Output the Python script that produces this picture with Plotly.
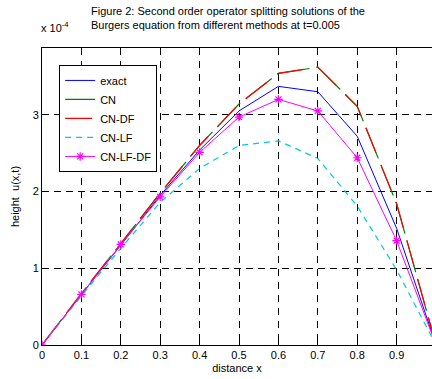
import plotly.graph_objects as go

x = [0, 0.1, 0.2, 0.3, 0.4, 0.5, 0.6, 0.7, 0.8, 0.9, 1.0]
# values in units of 1e-4
exact    = [0, 0.66, 1.30, 1.95, 2.54, 3.05, 3.37, 3.30, 2.72, 1.52, 0]
cn       = [0, 0.67, 1.32, 1.98, 2.60, 3.14, 3.54, 3.62, 3.11, 1.84, 0]
cn_df    = [0, 0.67, 1.32, 1.98, 2.60, 3.14, 3.54, 3.62, 3.11, 1.84, 0]
cn_lf    = [0, 0.64, 1.26, 1.86, 2.30, 2.60, 2.66, 2.43, 1.81, 0.98, 0]
cn_lf_df = [0, 0.66, 1.31, 1.93, 2.51, 2.97, 3.20, 3.05, 2.44, 1.36, 0]

xticks = [0, 0.1, 0.2, 0.3, 0.4, 0.5, 0.6, 0.7, 0.8, 0.9, 1.0]
xticklabels = ["0", "0.1", "0.2", "0.3", "0.4", "0.5", "0.6", "0.7", "0.8", "0.9", "1"]
yticks = [0, 1, 2, 3]
yticklabels = ["0", "1", "2", "3"]

FONT = "Arial, Liberation Sans, sans-serif"

fig = go.Figure()
fig.add_trace(go.Scatter(x=x, y=exact, name="exact", mode="lines",
                         line=dict(color="#0000ff", width=1)))
fig.add_trace(go.Scatter(x=x, y=cn, name="CN", mode="lines",
                         line=dict(color="#008000", width=1.2, dash="33px,7px")))
fig.add_trace(go.Scatter(x=x, y=cn_df, name="CN-DF", mode="lines",
                         line=dict(color="#ff0000", width=1.2, dash="27px,13px")))
fig.add_trace(go.Scatter(x=x, y=cn_lf, name="CN-LF", mode="lines",
                         line=dict(color="#00cccc", width=1.2, dash="6px,5px")))
fig.add_trace(go.Scatter(x=x, y=cn_lf_df, name="CN-LF-DF", mode="lines+markers",
                         line=dict(color="#ff00ff", width=1),
                         marker=dict(symbol="asterisk-open", size=7,
                                     line=dict(color="#ff00ff", width=1.2))))

fig.update_layout(
    width=432, height=379,
    margin=dict(l=42, r=0, t=48, b=34),
    paper_bgcolor="white", plot_bgcolor="white",
    font=dict(family=FONT, size=11, color="black"),
    showlegend=True,
    legend=dict(x=0.044, y=0.943, xanchor="left", yanchor="top",
                bordercolor="black", borderwidth=1, bgcolor="white",
                font=dict(family=FONT, size=11, color="black"),
                tracegroupgap=0),
)
fig.update_xaxes(range=[0, 0.9898], tickvals=xticks, ticktext=xticklabels,
                 showline=True, linecolor="black", linewidth=1, mirror=True,
                 ticks="inside", ticklen=4, tickcolor="black",
                 showgrid=True, gridcolor="black", gridwidth=1, griddash="7px,6px",
                 zeroline=False,
                 title=dict(text="distance x", standoff=4, font=dict(size=11)),
                 tickfont=dict(size=11))
fig.update_yaxes(range=[0, 3.87], tickvals=yticks, ticktext=yticklabels,
                 showline=True, linecolor="black", linewidth=1, mirror=True,
                 ticks="inside", ticklen=4, tickcolor="black",
                 showgrid=True, gridcolor="black", gridwidth=1, griddash="7px,5px",
                 zeroline=False,
                 title=dict(text="height  u(x,t)", standoff=10, font=dict(size=11)),
                 tickfont=dict(size=11))

fig.add_annotation(
    text="Figure 2: Second order operator splitting solutions of the<br>Burgers equation from different methods at t=0.005",
    xref="paper", yref="paper", x=(89 - 42) / 390, y=(345 - 3) / 297,
    xanchor="left", yanchor="top", align="left", showarrow=False,
    font=dict(family=FONT, size=11, color="black"))
fig.add_annotation(
    text="x 10<sup>-4</sup>", xref="paper", yref="paper",
    x=(39 - 42) / 390, y=(345 - 36) / 297, xanchor="left", yanchor="bottom",
    showarrow=False, font=dict(family=FONT, size=11, color="black"))

fig.write_html("out.html")
